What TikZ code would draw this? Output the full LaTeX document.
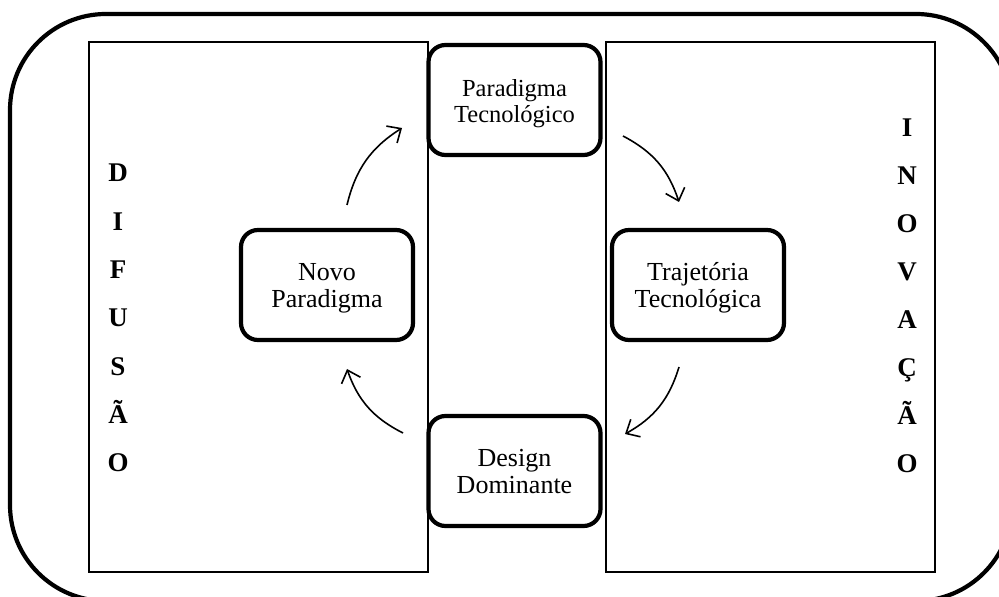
\documentclass[tikz,border=0pt]{standalone}
\usepackage{fontspec}
\setmainfont{Liberation Serif}
\usetikzlibrary{arrows.meta}
% two centred lines, set a little below the middle of their box
\newcommand\stagetext[2]{\raisebox{-4pt}[\height][\depth]{\begin{tabular}{@{}c@{}}#1\\#2\end{tabular}}}
\begin{document}
\begin{tikzpicture}[x=1pt,y=1pt,
  stagebox/.style={draw, line width=4.2pt, rounded corners=17pt,
    minimum width=172pt, minimum height=110pt, align=center, fill=white,
    font=\fontsize{26}{27}\selectfont, inner sep=0pt},
  panel/.style={draw, line width=1.6pt},
  letter/.style={font=\fontsize{27}{29}\selectfont\bfseries, inner sep=0pt, anchor=base},
  cyclearrow/.style={line width=1.6pt, -{Straight Barb[length=11pt,width=20pt,line width=1.6pt]}, bend left=22}
]
\useasboundingbox (0,0) rectangle (999,597);
% outer rounded frame, running off the right and bottom edges
\begin{scope}
\clip (0,0) rectangle (999,597);
\draw[line width=4.2pt, rounded corners=96pt] (10,-4) rectangle (1012,583);
\end{scope}
% side panels
\draw[panel] (89,25) rectangle (428,555);
\draw[panel] (606,25) rectangle (935,555);
% cycle stages
\node[stagebox, font=\fontsize{24.5}{26}\selectfont] (pt) at (514.5,497) {\stagetext{Paradigma}{Tecnológico}};
\node[stagebox] (tt) at (698,312) {\stagetext{Trajetória}{Tecnológica}};
\node[stagebox] (np) at (327,312) {\stagetext{Novo}{Paradigma}};
\node[stagebox] (dd) at (514.5,126) {\stagetext{Design}{Dominante}};
% vertical words
\foreach \ch [count=\i] in {D,I,F,U,S,Ã,O}
  \node[letter] (dif\i) at (118,{597-182-(\i-1)*48.3}) {\ch};
\foreach \ch [count=\i] in {I,N,O,V,A,Ç,Ã,O}
  \node[letter] (ino\i) at (907,{597-137-(\i-1)*47.9}) {\ch};
% arrow end points
\coordinate (a1s) at (347,392);
\coordinate (a1e) at (402,469);
\coordinate (a2s) at (623,461);
\coordinate (a2e) at (679,395);
\coordinate (a3s) at (679,230);
\coordinate (a3e) at (625,163);
\coordinate (a4s) at (403,164);
\coordinate (a4e) at (347,228);
\draw[cyclearrow] (a1s) to (a1e);
\draw[cyclearrow] (a2s) to (a2e);
\draw[cyclearrow] (a3s) to (a3e);
\draw[cyclearrow] (a4s) to (a4e);
\end{tikzpicture}
\end{document}
